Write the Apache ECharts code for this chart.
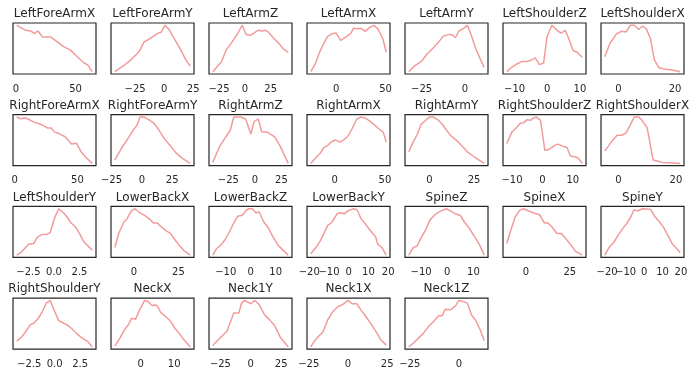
<!DOCTYPE html>
<html>
<head>
<meta charset="utf-8">
<script src="https://cdn.jsdelivr.net/npm/echarts@6/dist/echarts.min.js"></script>
<style>
  html, body { margin: 0; padding: 0; background: #ffffff; }
  #chart { width: 698px; height: 376px; }
</style>
</head>
<body>
<div id="chart"></div>
<script>
// panel titles, in reading order (7 per row)
const names = [
  "LeftForeArmX", "LeftForeArmY", "LeftArmZ", "LeftArmX", "LeftArmY", "LeftShoulderZ", "LeftShoulderX",
  "RightForeArmX", "RightForeArmY", "RightArmZ", "RightArmX", "RightArmY", "RightShoulderZ", "RightShoulderX",
  "LeftShoulderY", "LowerBackX", "LowerBackZ", "LowerBackY", "SpineZ", "SpineX", "SpineY",
  "RightShoulderY", "NeckX", "Neck1Y", "Neck1X", "Neck1Z"
];

// x positions of the points of every curve
const xVals = [
  [0.8, 4.2, 8.3, 12.5, 15.3, 18.6, 22.2, 29.2, 34.7, 40.3, 45.8, 51.4, 56.9, 60.3, 63.9],
  [-42.5, -36.1, -28.9, -23.1, -20.8, -17.3, -14.5, -10.1, -5.8, -2.3, 0.6, 4.3, 8.7, 14.5, 18.8, 22.5],
  [-31, -22.6, -18.1, -12.3, -7.4, -2.6, 1.3, 5.5, 10.3, 13.5, 16.8, 20, 22.6, 28.1, 32.9, 36.8, 41.9],
  [-25.7, -21.2, -16.8, -12.7, -8.6, -4.1, 0, 4.5, 9.6, 14.7, 17.5, 21.6, 25, 29.5, 33.6, 38, 42.1, 47.3, 50.7],
  [-32.4, -28.9, -25, -22.1, -18.2, -15.2, -12.7, -9.4, -7.4, -5.5, -3.5, -1, 1.4, 3.9, 6.25, 8.8, 11.1],
  [-12.4, -10.9, -9.3, -7.8, -6.3, -5.2, -3.7, -2.4, -1.1, -0.1, 1.4, 3, 4.2, 5.5, 6.6, 7.9, 9.1, 10.7],
  [-4.8, -3, -0.6, 1.2, 2.7, 4.2, 5.6, 7.1, 8.6, 9.8, 11.3, 12.7, 14.3, 16.7, 19, 21.8],
  [1.6, 4.8, 8.1, 11.6, 15.6, 19.6, 23.7, 26.3, 29, 31.7, 35.8, 39.8, 42.5, 45.2, 49.2, 53.2, 57.3, 61.8],
  [-22.3, -16.8, -11.2, -7, -4.2, -1.4, 2, 5.6, 9.8, 14, 18.2, 23.7, 27.9, 33.5, 39.9],
  [-39.7, -32.7, -23.1, -19.9, -13.5, -8.7, -3.8, -0.7, 3.2, 6.4, 12.2, 18.6, 23.4, 31.4],
  [-23.7, -18.3, -14.3, -11, -7, -3.7, 0.7, 5, 9, 13, 17.3, 21.7, 25.7, 29.7, 34, 39, 44, 48.3, 51.3],
  [-11.6, -9.1, -6.8, -4.7, -2.5, 0, 2.3, 5.1, 7.6, 9.8, 12.7, 15.5, 18.4, 21.2, 25, 30.7],
  [-11.7, -10, -8.3, -7.2, -6.1, -5, -3.9, -2.8, -1.9, -0.6, 0.8, 2.2, 3.7, 5, 6.7, 8.1, 9.2, 10.6, 11.7, 13.1],
  [-4.7, -2.4, -0.4, 1.2, 2.7, 4.1, 5.5, 7.1, 8.2, 10, 12.1, 13.5, 15.3, 18.2, 21.5],
  [-3.65, -3.16, -2.5, -2.0, -1.61, -1.18, -0.69, -0.36, 0.03, 0.46, 0.95, 1.28, 1.68, 2.11, 2.53, 2.93, 3.26, 3.75],
  [-10.7, -8.5, -5.6, -3.8, -1.5, 0.6, 2.8, 6, 8.5, 10.9, 13.2, 15.4, 18.2, 20.7, 22.9, 25.4, 28.2, 31.6],
  [-15.2, -13.6, -12, -10.2, -8.2, -6.8, -5.2, -3.4, -1.6, -0.7, 0.7, 2, 3.4, 5.2, 6.8, 8.9, 10.9, 12.9, 15],
  [-19.2, -16.4, -14.4, -12.7, -10.7, -8.5, -5.9, -4.2, -2.2, 0, 2.5, 4.2, 6.3, 8.5, 11, 13.6, 14.7, 16.9, 19],
  [-14.7, -13, -11.5, -9.8, -8.1, -6.6, -4.6, -2.7, -0.4, 1.4, 3.1, 5, 6.6, 8.6, 10.2, 12.1, 14.1],
  [-10.9, -8.6, -6.1, -3.6, -1.3, 1.5, 4.4, 7.8, 10.5, 12.6, 14.9, 17.7, 20.2, 23.1, 25.8, 28.2, 32.1],
  [-21.3, -19.1, -16.4, -14.2, -11.8, -9.5, -7.3, -5.5, -3.3, -0.9, 1.5, 3.6, 5.8, 8.2, 10.5, 12.7, 15.5, 17.8, 19.6],
  [-3.72, -3.22, -2.73, -2.4, -2.07, -1.68, -1.25, -0.82, -0.43, -0.1, 0.39, 0.89, 1.22, 1.71, 2.14, 2.6, 3.26, 3.68],
  [-7.7, -6.2, -4.8, -3.5, -2.7, -1.5, -0.2, 1.2, 2.2, 3.5, 4.5, 5.2, 6, 7.5, 9, 10.2, 11.5, 13, 14.8],
  [-31.3, -25.2, -19.6, -14, -9.8, -7.6, -5, 0, 3.4, 7, 11.2, 15.4, 19.6, 24.6, 30.8],
  [-23.7, -20.9, -15.9, -12.9, -10.1, -6.9, -3.7, 0, 2.8, 5.6, 8.2, 11.4, 14.7, 17.9, 21.1, 24.4],
  [-25.5, -23.3, -20.7, -18.1, -15.5, -12.9, -10.3, -8.6, -6.9, -4.3, -1.7, 0, 2.2, 4.3, 6.4, 8.6, 10.9, 12.9]
];

// heights of the curves (relative units)
const yVals = [
  [147, 140, 132, 130, 122, 130, 112, 112, 97, 82, 72, 52, 34, 27, 7],
  [7, 22, 42, 62, 72, 97, 102, 112, 122, 127, 147, 134, 107, 72, 42, 24],
  [7, 37, 72, 97, 120, 147, 119, 117, 127, 132, 130, 132, 127, 107, 92, 77, 65],
  [9, 32, 67, 92, 114, 122, 124, 102, 112, 122, 138, 137, 138, 129, 140, 147, 137, 107, 67],
  [9, 27, 40, 60, 80, 97, 114, 120, 119, 110, 130, 137, 147, 114, 77, 47, 22],
  [9, 22, 32, 39, 39, 42, 50, 30, 35, 112, 147, 132, 124, 132, 107, 72, 67, 52],
  [52, 92, 122, 129, 127, 147, 147, 135, 145, 137, 107, 42, 19, 14, 12, 7],
  [148, 143, 146, 140, 132, 128, 121, 115, 115, 103, 98, 90, 80, 68, 70, 43, 26, 10],
  [18, 53, 83, 108, 120, 146, 146, 138, 128, 108, 83, 60, 40, 23, 8],
  [13, 63, 108, 146, 146, 140, 96, 133, 140, 103, 101, 88, 63, 10],
  [10, 28, 40, 56, 63, 73, 80, 73, 80, 90, 113, 140, 148, 146, 138, 126, 113, 103, 73],
  [43, 73, 96, 126, 136, 148, 148, 138, 123, 106, 88, 76, 60, 43, 28, 8],
  [68, 103, 118, 130, 131, 140, 138, 146, 148, 138, 48, 50, 60, 66, 60, 56, 30, 28, 25, 8],
  [45, 73, 93, 93, 100, 123, 148, 148, 138, 116, 18, 15, 11, 10, 8],
  [8, 18, 41, 43, 63, 70, 71, 76, 118, 148, 135, 123, 105, 93, 71, 48, 38, 23],
  [31, 73, 108, 118, 141, 148, 138, 128, 118, 105, 105, 93, 81, 73, 55, 38, 21, 8],
  [8, 28, 38, 55, 83, 105, 125, 128, 145, 148, 148, 136, 138, 108, 93, 63, 38, 23, 8],
  [15, 35, 53, 73, 98, 108, 133, 136, 133, 143, 148, 145, 118, 103, 83, 65, 43, 33, 11],
  [11, 33, 38, 65, 88, 115, 131, 140, 148, 141, 133, 128, 108, 88, 68, 45, 11],
  [43, 83, 123, 143, 148, 141, 135, 130, 105, 105, 93, 73, 73, 55, 38, 20, 8],
  [6, 28, 45, 65, 85, 101, 121, 143, 141, 147, 146, 145, 123, 108, 91, 68, 38, 25, 13],
  [23, 36, 56, 71, 76, 88, 108, 136, 144, 118, 84, 76, 71, 59, 46, 34, 21, 6],
  [8, 31, 56, 74, 91, 88, 118, 144, 141, 128, 131, 124, 108, 96, 81, 61, 46, 26, 6],
  [8, 31, 51, 106, 106, 136, 144, 134, 144, 131, 101, 86, 68, 31, 4],
  [6, 26, 51, 86, 108, 124, 131, 144, 134, 134, 116, 96, 74, 51, 26, 11],
  [6, 16, 31, 46, 66, 81, 98, 98, 118, 116, 128, 144, 141, 136, 101, 84, 56, 24]
];

// x tick labels of every panel
const tickVals = [
  [0, 50], [-25, 0, 25], [-25, 0, 25], [0, 50], [-25, 0], [-10, 0, 10], [0, 20],
  [0, 50], [-25, 0, 25], [-25, 0, 25], [0, 50], [0, 25], [-10, 0, 10], [0, 20],
  [-2.5, 0, 2.5], [0, 25], [-10, 0, 10], [-20, -10, 0, 10, 20], [-10, 0, 10], [0, 25], [-20, -10, 0, 10, 20],
  [-2.5, 0, 2.5], [0, 10], [-25, 0, 25], [-25, 0, 25], [-25, 0]
];

const FONT = "DejaVu Sans";
const LINE = "#f29b9b";
const INK = "#262626";

const chart = echarts.init(document.getElementById("chart"));

// matplotlib-like 5% margins around the data
function padded(arr) {
  const lo = Math.min.apply(null, arr), hi = Math.max.apply(null, arr);
  return [lo - 0.05 * (hi - lo), hi + 0.05 * (hi - lo)];
}

const grids = [], xAxes = [], yAxes = [], series = [], titles = [];

names.forEach(function (name, i) {
  const col = i % 7, row = Math.floor(i / 7);
  const left = 13 + 98 * col;
  const top = 23 + 91.7 * row;
  const oneDecimal = tickVals[i].some(function (t) { return t % 1 !== 0; });
  const xr = padded(xVals[i]), yr = padded(yVals[i]);

  grids.push({
    left: left, top: top, width: 83, height: 51,
    show: true, borderColor: INK, borderWidth: 1.2, backgroundColor: "#ffffff"
  });
  titles.push({
    text: name, left: left + 41.5, top: top - 16, textAlign: "center", padding: 0,
    textStyle: { fontFamily: FONT, fontSize: 12, fontWeight: "normal", color: INK, lineHeight: 14 }
  });

  // two stacked x axes per panel (even / odd ticks) so tightly packed
  // labels like "−20−10" are not dropped by the overlap check
  [0, 1].forEach(function (part) {
    xAxes.push({
      type: "value", gridIndex: i, position: "bottom", offset: 0,
      min: xr[0], max: xr[1],
      axisLine: { show: false }, axisTick: { show: false }, splitLine: { show: false },
      axisLabel: {
        customValues: tickVals[i].filter(function (t, k) { return k % 2 === part; }),
        margin: 10, showMinLabel: true, showMaxLabel: true,
        fontFamily: FONT, fontSize: 10, color: INK,
        formatter: function (v) {
          return (oneDecimal ? v.toFixed(1) : String(v)).replace("-", "\u2212");
        }
      }
    });
  });
  yAxes.push({
    type: "value", gridIndex: i, min: yr[0], max: yr[1],
    axisLine: { show: false }, axisTick: { show: false },
    axisLabel: { show: false }, splitLine: { show: false }
  });
  series.push({
    type: "line", xAxisIndex: 2 * i, yAxisIndex: i, showSymbol: false,
    lineStyle: { color: LINE, width: 1.5 },
    data: xVals[i].map(function (x, k) { return [x, yVals[i][k]]; })
  });
});

chart.setOption({
  animation: false,
  title: titles,
  grid: grids,
  xAxis: xAxes,
  yAxis: yAxes,
  series: series
});
</script>
</body>
</html>
